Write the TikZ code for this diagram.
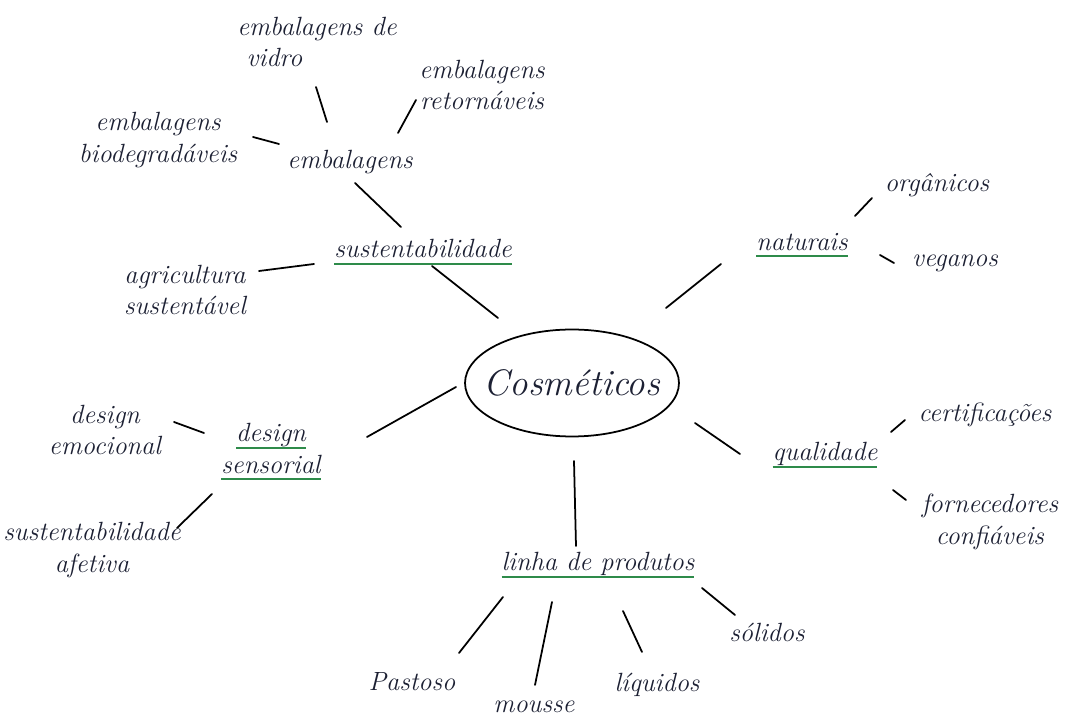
\documentclass[tikz,border=0pt]{standalone}
\usetikzlibrary{shapes.geometric}
\definecolor{ink}{HTML}{1C2033}
\definecolor{marker}{HTML}{2E8B4A}
\newlength{\gullen}
\newcommand{\gul}[1]{\settowidth{\gullen}{#1}\rlap{\textcolor{marker}{\rule[-0.6ex]{\gullen}{1.1pt}}}#1}
\tikzset{every node/.style={align=center, text=ink, inner sep=2pt, font=\itshape\fontsize{15}{18}\selectfont}}
\tikzset{every edge/.style={draw=black, line width=1pt, line cap=round}}

\begin{document}
\begin{tikzpicture}[x=0.02cm, y=-0.02cm]
  \useasboundingbox (0,0) rectangle (1073,722);
  \node (cos) [font=\itshape\fontsize{21}{24}\selectfont] at (572,383) {Cosméticos};
  \draw[line width=1pt] (cos.center) ellipse [x radius=2.14cm, y radius=1.07cm];

  \node (sus) at (423,252) {\gul{sustentabilidade}};
  \node (emb) at (350,162) {embalagens};
  \node (vid) [align=left] at (317,42) {embalagens de\\ \ vidro};
  \node (ret) at (482,85) {embalagens\\retornáveis};
  \node (bio) at (158,140) {embalagens\\biodegradáveis};
  \node (agr) at (185,290) {agricultura\\sustentável};

  \node (nat) at (802,245) {\gul{naturais}};
  \node (org) at (937,185) {orgânicos};
  \node (veg) at (955,263) {veganos};

  \node (qua) at (825,455) {\gul{qualidade}};
  \node (cer) at (985,415) {certificações};
  \node (for) at (990,522) {fornecedores\\confiáveis};

  \node (lin) at (598,565) {\gul{linha de produtos}};
  \node (sol) at (767,632) {sólidos};
  \node (liq) at (657,685) {líquidos};
  \node (mou) at (534,707) {mousse};
  \node (pas) at (412,682) {Pastoso};

  \node (des) at (271,452) {\gul{design}\\\gul{sensorial}};
  \node (emo) at (105,430) {design\\emocional};
  \node (afe) at (92,550) {sustentabilidade\\afetiva};

  % short strokes, loose ends like the sketch
  \path ([shift={(-74,-65)}]cos.center) edge ([shift={(9,14)}]sus.center);
  \path ([shift={(94,-75)}]cos.center) edge ([shift={(-81,19)}]nat.center);
  \path ([shift={(123,40)}]cos.center) edge ([shift={(-85,-1)}]qua.center);
  \path ([shift={(2,78)}]cos.center) edge ([shift={(-22,-19)}]lin.center);
  \path ([shift={(-116,4)}]cos.center) edge ([shift={(96,-15)}]des.center);

  \path ([shift={(-22,-25)}]sus.center) edge ([shift={(5,21)}]emb.center);
  \path ([shift={(-109,12)}]sus.center) edge ([shift={(74,-19)}]agr.center);

  \path ([shift={(-23,-40)}]emb.center) edge ([shift={(-1,45)}]vid.center);
  \path ([shift={(48,-29)}]emb.center) edge ([shift={(-66,15)}]ret.center);
  \path ([shift={(-71,-18)}]emb.center) edge ([shift={(95,-3)}]bio.center);

  \path ([shift={(53,-29)}]nat.center) edge ([shift={(-65,13)}]org.center);
  \path ([shift={(78,10)}]nat.center) edge ([shift={(-61,0)}]veg.center);

  \path ([shift={(66,-23)}]qua.center) edge ([shift={(-80,5)}]cer.center);
  \path ([shift={(68,35)}]qua.center) edge ([shift={(-84,-22)}]for.center);

  \path ([shift={(104,23)}]lin.center) edge ([shift={(-32,-17)}]sol.center);
  \path ([shift={(25,46)}]lin.center) edge ([shift={(-15,-33)}]liq.center);
  \path ([shift={(-46,37)}]lin.center) edge ([shift={(1,-22)}]mou.center);
  \path ([shift={(-95,32)}]lin.center) edge ([shift={(47,-29)}]pas.center);

  \path ([shift={(-67,-19)}]des.center) edge ([shift={(69,-8)}]emo.center);
  \path ([shift={(-59,42)}]des.center) edge ([shift={(85,-22)}]afe.center);
\end{tikzpicture}
\end{document}
